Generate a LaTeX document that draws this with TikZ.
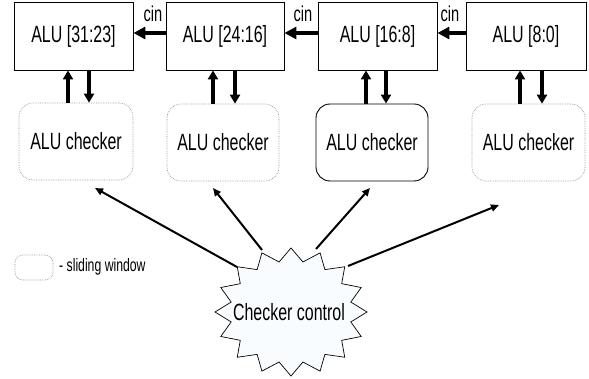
\documentclass[tikz,border=0pt]{standalone}
\usepackage{fontspec}
\setmainfont{Liberation Sans}[FakeStretch=0.68]
\usetikzlibrary{arrows.meta}
\definecolor{starfill}{RGB}{248,252,254}
\definecolor{winline}{RGB}{150,150,150}
\begin{document}
\begin{tikzpicture}[x=1pt,y=-1pt,
 alubox/.style={draw=black,line width=0.9pt,inner sep=0pt,font=\fontsize{23.5}{27}\selectfont},
 chk/.style={rounded corners=14pt,inner sep=0pt,minimum height=77pt,font=\fontsize{23.5}{27}\selectfont},
 win/.style={draw=winline,densely dotted,line width=0.7pt},
 act/.style={draw=black,line width=0.9pt},
 cinarr/.style={line width=3.3pt,-{Triangle[length=12pt,width=12pt]}},
 vbar/.style={line width=3.5pt,-{Triangle[length=9pt,width=10pt]}},
 diag/.style={line width=2pt,-{Triangle[length=8pt,width=7pt]}},
 cinlbl/.style={font=\fontsize{21.5}{25}\selectfont,inner sep=0pt,anchor=base}
]
\useasboundingbox (0,0) rectangle (589,379);

% ALU boxes
\node[alubox,minimum width=119pt,minimum height=68pt] (b1) at (73.5,36) {ALU [31:23]};
\node[alubox,minimum width=118pt,minimum height=68pt] (b2) at (225,36) {ALU [24:16]};
\node[alubox,minimum width=119pt,minimum height=68pt] (b3) at (377.5,36) {ALU [16:8]};
\node[alubox,minimum width=120pt,minimum height=68pt] (b4) at (526,36) {ALU [8:0]};

% carry arrows
\draw[cinarr] ([yshift=3pt]b2.west) -- ([yshift=3pt]b1.east);
\draw[cinarr] ([yshift=3pt]b3.west) -- ([yshift=3pt]b2.east);
\draw[cinarr] ([yshift=3pt]b4.west) -- ([yshift=3pt]b3.east);
\node[cinlbl] (l1) at (153,22) {cin};
\node[cinlbl] (l2) at (303,22) {cin};
\node[cinlbl] (l3) at (450,22) {cin};

% checkers
\node[chk,win,minimum width=114pt] (c1) at (76,141.5) {ALU checker};
\node[chk,win,minimum width=112pt] (c2) at (223,142.5) {ALU checker};
\node[chk,act,minimum width=112pt] (c3) at (372,142.5) {ALU checker};
\node[chk,win,minimum width=113pt] (c4) at (528.5,142.5) {ALU checker};

% vertical arrows
\coordinate (u1) at (68,0);  \coordinate (d1) at (89,0);
\coordinate (u2) at (213,0); \coordinate (d2) at (235,0);
\coordinate (u3) at (366,0); \coordinate (d3) at (386,0);
\coordinate (u4) at (520,0); \coordinate (d4) at (542,0);
\draw[vbar] (u1 |- c1.north) -- (u1 |- b1.south);
\draw[vbar] (d1 |- b1.south) -- (d1 |- c1.north);
\draw[vbar] (u2 |- c2.north) -- (u2 |- b2.south);
\draw[vbar] (d2 |- b2.south) -- (d2 |- c2.north);
\draw[vbar] (u3 |- c3.north) -- (u3 |- b3.south);
\draw[vbar] (d3 |- b3.south) -- (d3 |- c3.north);
\draw[vbar] (u4 |- c4.north) -- (u4 |- b4.south);
\draw[vbar] (d4 |- b4.south) -- (d4 |- c4.north);

% star
\draw[fill=starfill,line width=0.7pt,shift={(291,312)}]
  (90:76 and 64)
  \foreach \i in {0,...,15} { -- ({101.25+\i*22.5}:61 and 51) -- ({112.5+\i*22.5}:76 and 64) } -- cycle;
\node[font=\fontsize{23.5}{27}\selectfont,inner sep=0pt] (cc) at (289,312) {Checker control};

% control arrows
\coordinate (s1) at (237,267); \coordinate (t1) at (95,188);
\coordinate (s2) at (262,250); \coordinate (t2) at (213,188);
\coordinate (s3) at (316,249); \coordinate (t3) at (370,188);
\coordinate (s4) at (348,266); \coordinate (t4) at (499,205);
\draw[diag] (s1) -- (t1);
\draw[diag] (s2) -- (t2);
\draw[diag] (s3) -- (t3);
\draw[diag] (s4) -- (t4);

% legend
\node[win,rounded corners=8pt,minimum width=38pt,minimum height=25pt,inner sep=0pt] (lg) at (34,267.5) {};
\node[anchor=west,inner sep=0pt,font=\fontsize{18}{21}\selectfont] (lgt) at (59,267) {- sliding window};
\end{tikzpicture}
\end{document}
